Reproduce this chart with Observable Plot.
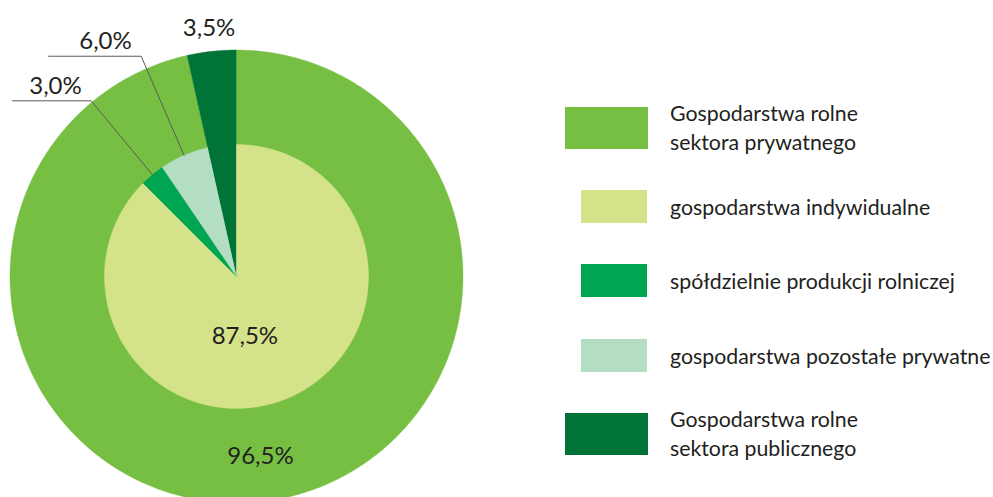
<!DOCTYPE html>
<html>
<head>
<meta charset="utf-8">
<script src="https://cdn.jsdelivr.net/npm/d3@7"></script>
<script src="https://cdn.jsdelivr.net/npm/@observablehq/plot@0.6"></script>
<style>
  html, body { margin: 0; padding: 0; background: #fff; }
  #wrap { position: relative; width: 993px; height: 497px; overflow: hidden; font-family: Lato, "Open Sans", sans-serif; color: #231f20; }
  #chart { position: absolute; left: 0; top: 0; }
  .sw { position: absolute; }
  .lt { position: absolute; left: 670px; transform: translateY(-50%); font-size: 21.3px; line-height: 29px; white-space: nowrap; }
</style>
</head>
<body>
<div id="wrap"><div id="chart"></div><div id="legend"></div></div>
<script>
// ---------------- data ----------------
const outerCategories = ["Gospodarstwa rolne sektora prywatnego", "Gospodarstwa rolne sektora publicznego"];
const outerValues = [96.5, 3.5];
const innerCategories = ["gospodarstwa indywidualne", "spółdzielnie produkcji rolniczej", "gospodarstwa pozostałe prywatne"];
const innerValues = [87.5, 3.0, 6.0];
const legendCategories = [
  "Gospodarstwa rolne sektora prywatnego",
  "gospodarstwa indywidualne",
  "spółdzielnie produkcji rolniczej",
  "gospodarstwa pozostałe prywatne",
  "Gospodarstwa rolne sektora publicznego"
];
const legendLines = [
  ["Gospodarstwa rolne", "sektora prywatnego"],
  ["gospodarstwa indywidualne"],
  ["spółdzielnie produkcji rolniczej"],
  ["gospodarstwa pozostałe prywatne"],
  ["Gospodarstwa rolne", "sektora publicznego"]
];
const legendColors = ["#77bf43", "#d4e28a", "#00a551", "#b3dec4", "#007336"];

// ---------------- layout ----------------
const W = 480, H = 497, CX = 236, CY = 276, R = 226.5, RIN = 132;
const legendRows = [
  {cy: 128, big: true}, {cy: 206.5, big: false}, {cy: 280.5, big: false},
  {cy: 355.5, big: false}, {cy: 434, big: true}
];
const fmt = v => d3.format(".1f")(v).replace(".", ",") + "%";

// ---------------- geometry ----------------
const TAU = 2 * Math.PI;
const pt = (a, rad) => ({x: Math.sin(a) * rad, y: Math.cos(a) * rad});
function wedgePoints(cat, a0, a1, rad) {
  const pts = [{cat, ...pt(0, 0)}];
  const n = Math.max(2, Math.ceil((a1 - a0) / (Math.PI / 360)));
  for (let i = 0; i <= n; i++) pts.push({cat, ...pt(a0 + (a1 - a0) * i / n, rad)});
  return pts;
}
const outerArcs = d3.pie().sort(null).value(d => d)(outerValues);
const innerArcs = d3.pie().sort(null).value(d => d)
  .endAngle(TAU * d3.sum(innerValues) / d3.sum(outerValues))(innerValues);

const outerPts = outerArcs.flatMap((a, i) => wedgePoints(outerCategories[i], a.startAngle, a.endAngle, R));
const innerPts = innerArcs.flatMap((a, i) => wedgePoints(innerCategories[i], a.startAngle, a.endAngle, RIN));

const mid = a => (a.startAngle + a.endAngle) / 2;

// leader lines for the two small inner slices
const leaders = [
  {arc: innerArcs[1], elbowR: 228, endX: -224, labelX: -181},
  {arc: innerArcs[2], elbowR: 240, endX: -188, labelX: -131}
];
const leaderPts = [];
const labels = [];
leaders.forEach((l, i) => {
  const m = mid(l.arc);
  const p0 = pt(m, RIN), p1 = pt(m, l.elbowR);
  leaderPts.push({k: i, ...p0}, {k: i, ...p1}, {k: i, x: l.endX, y: p1.y});
  labels.push({text: fmt(l.arc.data), x: l.labelX, y: p1.y + 15});
});
// public slice label above the ring
{ const p = pt(mid(outerArcs[1]), 250); labels.push({text: fmt(outerArcs[1].data), x: p.x, y: p.y}); }
// labels inside
{ const p = pt(172 * Math.PI / 180, 60); labels.push({text: fmt(innerArcs[0].data), x: p.x, y: p.y}); }
{ const p = pt(172.4 * Math.PI / 180, 181); labels.push({text: fmt(outerArcs[0].data), x: p.x, y: p.y}); }

const color = {domain: legendCategories, range: legendColors};

const chart = Plot.plot({
  width: W, height: H,
  marginTop: 0, marginRight: 0, marginBottom: 0, marginLeft: 0,
  x: {domain: [-CX, W - CX], axis: null},
  y: {domain: [CY - H, CY], axis: null},
  color,
  style: {background: "transparent", fontFamily: "Lato, 'Open Sans', sans-serif"},
  marks: [
    Plot.line(outerPts, {x: "x", y: "y", z: "cat", fill: "cat", stroke: "cat", strokeWidth: 0.4, curve: "linear"}),
    Plot.line(innerPts, {x: "x", y: "y", z: "cat", fill: "cat", stroke: "cat", strokeWidth: 0.4, curve: "linear"}),
    Plot.line(leaderPts, {x: "x", y: "y", z: "k", stroke: "#5a5a5a", strokeWidth: 1}),
    Plot.text(labels, {x: "x", y: "y", text: "text", fontSize: 24, fill: "#231f20", textAnchor: "middle"})
  ]
});
document.getElementById("chart").appendChild(chart);

// legend
const legend = document.getElementById("legend");
legendCategories.forEach((c, i) => {
  const row = legendRows[i];
  const sw = document.createElement("div");
  sw.className = "sw";
  const w = row.big ? 83 : 66, h = row.big ? 42 : 33;
  const left = row.big ? 565 : 581;
  Object.assign(sw.style, {left: left + "px", top: (row.cy - h / 2) + "px", width: w + "px", height: h + "px", background: legendColors[i]});
  legend.appendChild(sw);
  const t = document.createElement("div");
  t.className = "lt";
  t.style.top = row.cy + "px";
  t.innerHTML = legendLines[i].join("<br>");
  legend.appendChild(t);
});
</script>
</body>
</html>
